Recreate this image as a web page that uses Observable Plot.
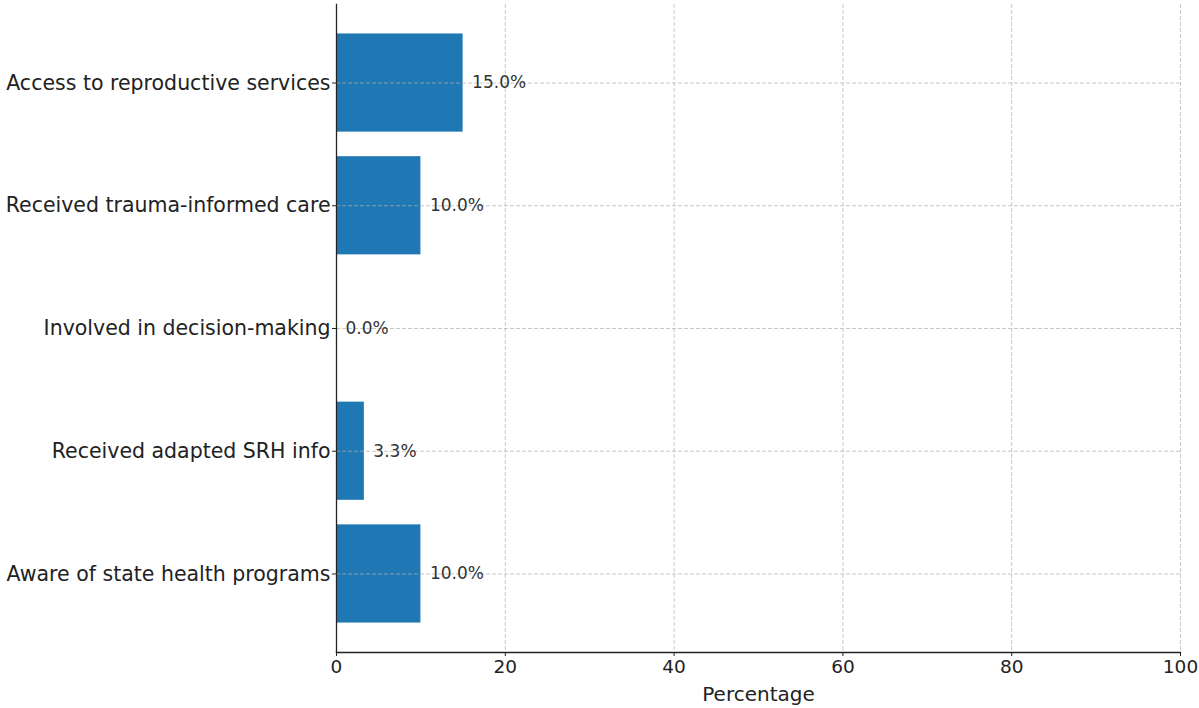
<!DOCTYPE html>
<html>
<head>
<meta charset="utf-8">
<script src="https://cdn.jsdelivr.net/npm/d3@7"></script>
<script src="https://cdn.jsdelivr.net/npm/@observablehq/plot@0.6"></script>
<style>
  html, body { margin: 0; padding: 0; background: #fff; }
  svg { display: block; }
</style>
</head>
<body>
<div id="chart"></div>
<script>
const categories = [
  "Access to reproductive services",
  "Received trauma-informed care",
  "Involved in decision-making",
  "Received adapted SRH info",
  "Aware of state health programs"
];
const percentages = [15.0, 10.0, 0.0, 3.3, 10.0];
const xTicks = [0, 20, 40, 60, 80, 100];
const xLabel = "Percentage";

const data = categories.map((c, i) => ({category: c, value: percentages[i]}));

const plot = Plot.plot({
  width: 1199,
  height: 708,
  marginLeft: 336,
  marginRight: 19,
  marginTop: 4,
  marginBottom: 56,
  style: {fontFamily: "DejaVu Sans", background: "#fff"},
  x: {domain: [0, 100], ticks: xTicks},
  y: {domain: categories, paddingInner: 0.2, paddingOuter: 0.24, round: false},
  marks: [
    Plot.barX(data, {x: "value", y: "category", fill: "#1f77b4"}),
    Plot.gridX(xTicks, {stroke: "#b0b0b0", strokeOpacity: 0.7, strokeDasharray: "4,2"}),
    Plot.gridY({stroke: "#b0b0b0", strokeOpacity: 0.7, strokeDasharray: "4,2"}),
    Plot.text(data, {x: "value", y: "category", text: d => d.value.toFixed(1) + "%", textAnchor: "start", dx: 9, fontSize: 17, fill: "#333"}),
    Plot.axisX({ticks: xTicks, tickSize: 4, tickPadding: 3, fontSize: 18.5, color: "#222", label: xLabel, labelAnchor: "center", labelOffset: 48, labelArrow: "none"}),
    Plot.axisY({tickSize: 4, tickPadding: 2, fontSize: 20.5, color: "#222", label: null}),
    Plot.frame({anchor: "bottom", stroke: "#222", strokeWidth: 1.3}),
    Plot.frame({anchor: "left", stroke: "#222", strokeWidth: 1.3})
  ]
});
plot.querySelectorAll("[aria-label='x-axis label'] text").forEach(t => t.setAttribute("font-size", 20));
document.getElementById("chart").appendChild(plot);
</script>
</body>
</html>
